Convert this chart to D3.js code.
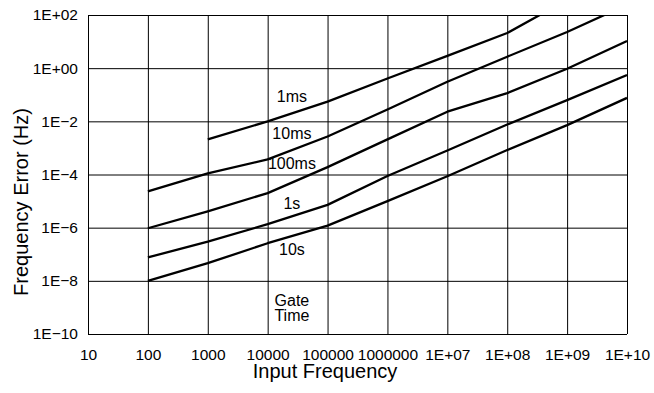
<!DOCTYPE html>
<html>
<head>
<meta charset="utf-8">
<script src="https://cdn.jsdelivr.net/npm/d3@7"></script>
<style>
  body { margin: 0; background: #fff; }
  svg { font-family: "Liberation Sans", Arial, Helvetica, sans-serif; }
  .axis .domain { display: none; }
  .grid line { stroke: #000; stroke-width: 1; }
  .tick text { font-size: 15.5px; fill: #000; }
  .curve { fill: none; stroke: #000; stroke-width: 2.3; stroke-linejoin: round; }
  .lbl { font-size: 16px; text-anchor: middle; }
  .axis-title { font-size: 20px; text-anchor: middle; }
</style>
</head>
<body>
<svg id="chart"></svg>
<script>
// tick values and labels
const xTicks = [1e1, 1e2, 1e3, 1e4, 1e5, 1e6, 1e7, 1e8, 1e9, 1e10];
const xTickLabels = ["10", "100", "1000", "10000", "100000", "1000000", "1E+07", "1E+08", "1E+09", "1E+10"];
const yTicks = [1e2, 1e0, 1e-2, 1e-4, 1e-6, 1e-8, 1e-10];
const yTickLabels = ["1E+02", "1E+00", "1E\u22122", "1E\u22124", "1E\u22126", "1E\u22128", "1E\u221210"];

// gate time curves, [input frequency, frequency error]
const gate1ms = [[1e3, 2.1e-3], [1e4, 1e-2], [1e5, 0.055], [1e6, 0.41], [1e7, 2.9], [1e8, 21], [3.5e8, 100]];
const gate10ms = [[1e2, 2.3e-5], [1e3, 1.1e-4], [1e4, 3.7e-4], [1e5, 2.7e-3], [1e6, 0.028], [1e7, 0.31], [1e8, 2.7], [1e9, 23], [4.2e9, 100]];
const gate100ms = [[1e2, 9.5e-7], [1e3, 4.1e-6], [1e4, 2e-5], [1e5, 1.9e-4], [1e6, 2.1e-3], [1e7, 0.023], [1e8, 0.115], [1e9, 0.95], [1e10, 10.5]];
const gate1s = [[1e2, 7.6e-8], [1e3, 3e-7], [1e4, 1.35e-6], [1e5, 7.2e-6], [1e6, 8.8e-5], [1e7, 8e-4], [1e8, 7.6e-3], [1e9, 0.063], [1e10, 0.55]];
const gate10s = [[1e2, 1e-8], [1e3, 4.6e-8], [1e4, 2.6e-7], [1e5, 1.2e-6], [1e6, 1.0e-5], [1e7, 8.6e-5], [1e8, 8.3e-4], [1e9, 7.2e-3], [1e10, 0.076]];

// curve labels, anchored in data space
const labelText = ["1ms", "10ms", "100ms", "1s", "10s", "Gate", "Time"];
const labelY = [0.055, 2.1e-3, 1.6e-4, 5e-6, 9.5e-8, 1.1e-9, 3e-10];
const labelX = 2.54e4;

const W = 654, H = 393;
const margin = {top: 15, right: 27, bottom: 59, left: 88};
const width = W - margin.left - margin.right;
const height = H - margin.top - margin.bottom;

const svg = d3.select("#chart").attr("width", W).attr("height", H);
const chart = svg.append("g").attr("transform", `translate(${margin.left},${margin.top})`);

const xScale = d3.scaleLog().domain([1e1, 1e10]).range([0, width]);
const yScale = d3.scaleLog().domain([1e-10, 1e2]).range([height, 0]);

const xAxis = d3.axisBottom(xScale)
  .tickValues(xTicks)
  .tickFormat((d, i) => xTickLabels[i])
  .tickSizeInner(-height).tickSizeOuter(0).tickPadding(15);
const yAxis = d3.axisLeft(yScale)
  .tickValues(yTicks)
  .tickFormat((d, i) => yTickLabels[i])
  .tickSizeInner(-width).tickSizeOuter(0).tickPadding(10);

chart.append("g").attr("class", "axis grid x-axis")
  .attr("transform", `translate(0,${height})`)
  .call(xAxis);
chart.append("g").attr("class", "axis grid y-axis")
  .call(yAxis);

chart.append("clipPath").attr("id", "plotClip")
  .append("rect").attr("width", width).attr("height", height);

const line = d3.line()
  .x(d => xScale(d[0]))
  .y(d => yScale(d[1]));

const curves = [gate1ms, gate10ms, gate100ms, gate1s, gate10s];
chart.append("g").attr("clip-path", "url(#plotClip)")
  .selectAll("path")
  .data(curves)
  .join("path")
  .attr("class", "curve")
  .attr("d", line);

chart.selectAll(".lbl")
  .data(labelText)
  .join("text")
  .attr("class", "lbl")
  .attr("x", xScale(labelX))
  .attr("y", (d, i) => yScale(labelY[i]))
  .text(d => d);

// axis titles
svg.append("text")
  .attr("class", "axis-title")
  .attr("x", 325)
  .attr("y", 378)
  .text("Input Frequency");

svg.append("text")
  .attr("class", "axis-title")
  .attr("transform", "translate(28,202) rotate(-90)")
  .text("Frequency Error (Hz)");
</script>
</body>
</html>
